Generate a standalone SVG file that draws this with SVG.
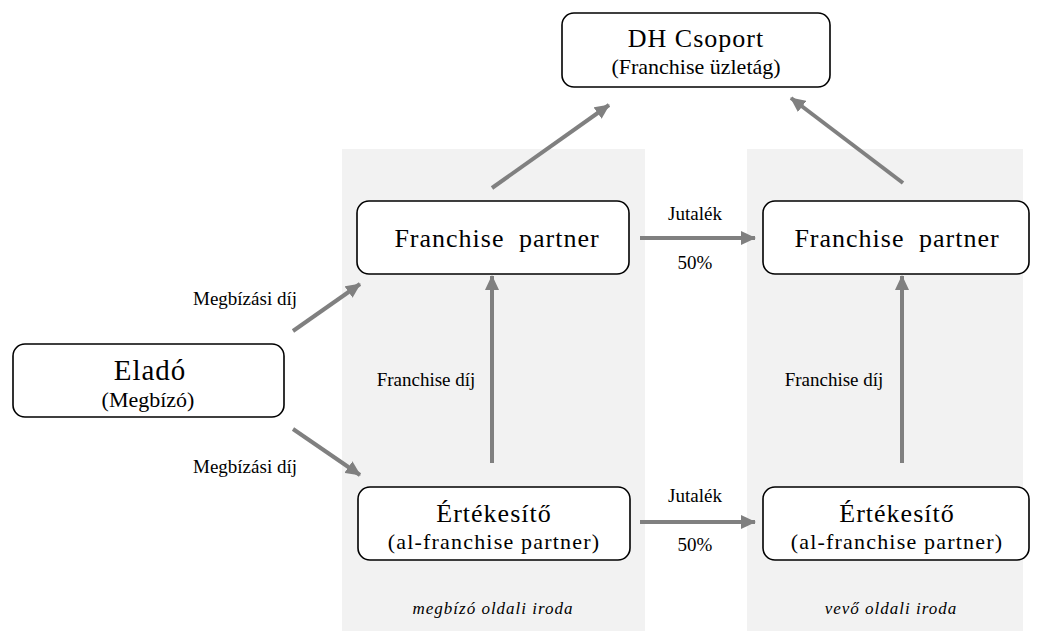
<svg xmlns="http://www.w3.org/2000/svg" width="1038" height="631" viewBox="0 0 1038 631">
<style>
.panel{fill:#f2f2f2}
.node{fill:#fff;stroke:#000;stroke-width:1.6}
text{font-family:'Liberation Serif','DejaVu Serif',serif;fill:#000;text-anchor:middle}
.big{font-size:26px;letter-spacing:1px}
.huge{font-size:29px;letter-spacing:1px}
.sub{font-size:22px}
.wide{letter-spacing:1.2px}
.lbl{font-size:19px}
.it{font-size:17px;font-style:italic;letter-spacing:1px}
.c{stroke:#808080;stroke-width:4;fill:none;marker-end:url(#ah)}
</style>
<defs>
<marker id="ah" markerUnits="userSpaceOnUse" markerWidth="16" markerHeight="14" refX="14" refY="7" orient="auto">
<path d="M0,0 L15,7 L0,14 Z" fill="#808080"/>
</marker>
</defs>
<rect width="1038" height="631" fill="#fff"/>
<rect class="panel" x="342" y="149" width="303" height="482"/>
<rect class="panel" x="747" y="149" width="276" height="482"/>
<text class="it" x="493" y="614">megbízó oldali iroda</text>
<text class="it" x="891" y="614">vevő oldali iroda</text>
<g id="connectors">
<line class="c" x1="492" y1="188" x2="609" y2="105"/>
<line class="c" x1="903" y1="183" x2="791" y2="98"/>
<line class="c" x1="293" y1="331" x2="360" y2="284"/>
<line class="c" x1="293" y1="429" x2="360" y2="475"/>
<line class="c" x1="492" y1="463" x2="492" y2="276"/>
<line class="c" x1="902" y1="463" x2="902" y2="276"/>
<line class="c" x1="640" y1="238" x2="755" y2="238"/>
<line class="c" x1="640" y1="522" x2="755" y2="522"/>
<text class="lbl" x="245" y="305">Megbízási díj</text>
<text class="lbl" x="245" y="473">Megbízási díj</text>
<text class="lbl" x="426" y="386">Franchise díj</text>
<text class="lbl" x="834" y="386">Franchise díj</text>
<text class="lbl" x="695" y="220">Jutalék</text>
<text class="lbl" x="695" y="269">50%</text>
<text class="lbl" x="695" y="502">Jutalék</text>
<text class="lbl" x="695" y="551">50%</text>
</g>
<g id="dh">
<rect class="node" x="562" y="13" width="268" height="74" rx="12"/>
<text class="big" x="696" y="47">DH Csoport</text>
<text class="sub" x="696" y="74">(Franchise üzletág)</text>
</g>
<g id="fp-left">
<rect class="node" x="357" y="201" width="272" height="73" rx="12"/>
<text class="big" x="497" y="247" word-spacing="7">Franchise partner</text>
</g>
<g id="fp-right">
<rect class="node" x="763" y="201" width="266" height="73" rx="12"/>
<text class="big" x="897" y="247" word-spacing="7">Franchise partner</text>
</g>
<g id="elado">
<rect class="node" x="13" y="344" width="271" height="73" rx="12"/>
<text class="huge" x="150" y="380">Eladó</text>
<text class="sub" x="148" y="407">(Megbízó)</text>
</g>
<g id="ert-left">
<rect class="node" x="358" y="487" width="272" height="73" rx="12"/>
<text class="big" x="494" y="522">Értékesítő</text>
<text class="sub wide" x="494" y="549">(al-franchise partner)</text>
</g>
<g id="ert-right">
<rect class="node" x="763" y="487" width="266" height="73" rx="12"/>
<text class="big" x="897" y="522">Értékesítő</text>
<text class="sub wide" x="897" y="549">(al-franchise partner)</text>
</g>
</svg>
